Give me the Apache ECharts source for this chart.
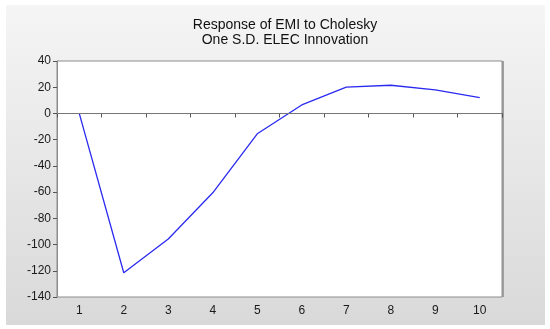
<!DOCTYPE html>
<html><head><meta charset="utf-8">
<script src="https://cdn.jsdelivr.net/npm/echarts@6/dist/echarts.min.js"></script>
<style>html,body{margin:0;padding:0;background:#fff}#c{width:550px;height:329px}</style>
</head><body><div id="c"></div>
<script>
var categories = ['1','2','3','4','5','6','7','8','9','10'];
var response = [0, -121.5, -95.8, -60.5, -15.5, 6.5, 20, 21.5, 18, 12];
var titleLines = ['Response of EMI to Cholesky', 'One S.D. ELEC Innovation'];

var chart = echarts.init(document.getElementById('c'), null, {renderer:'canvas'});
chart.setOption({
  animation:false,
  backgroundColor:'#fff',
  graphic:[{
    type:'rect', z:-10, silent:true,
    shape:{x:6,y:5,width:539,height:320},
    style:{fill:new echarts.graphic.LinearGradient(0,0,0,1,[{offset:0,color:'#f5f5f5'},{offset:1,color:'#d9d9d9'}])}
  },{
    type:'rect', z:-5, silent:true,
    shape:{x:502,y:61,width:2,height:236},
    style:{fill:'#a0a0a0'}
  }],
  title:{
    text:titleLines.join('\n'),
    left:280, top:13, textAlign:'center',
    textStyle:{fontFamily:'Liberation Sans, Arial, sans-serif',fontSize:14,fontWeight:'normal',color:'#111',lineHeight:15}
  },
  grid:{left:57,right:48,top:61,bottom:32,show:true,backgroundColor:'#fff',borderColor:'#8c8c8c',borderWidth:1},
  xAxis:{
    type:'category', data:categories, boundaryGap:true,
    axisLine:{show:true,lineStyle:{color:'#8c8c8c'}},
    axisTick:{show:true,length:4,lineStyle:{color:'#555'}},
    axisLabel:{color:'#1a1a1a',fontFamily:'Liberation Sans, Arial, sans-serif',fontSize:12,margin:8},
    splitLine:{show:false}
  },
  yAxis:{
    type:'value', min:-140, max:40, interval:20,
    axisLine:{show:true,lineStyle:{color:'#8c8c8c'}},
    axisTick:{show:true,length:4,lineStyle:{color:'#555'}},
    axisLabel:{color:'#1a1a1a',fontFamily:'Liberation Sans, Arial, sans-serif',fontSize:12,margin:6},
    splitLine:{show:false}
  },
  series:[{
    type:'line', data:response, showSymbol:false, symbol:'none',
    lineStyle:{color:'#2a2af0',width:1.3},
    markLine:{silent:true,symbol:'none',label:{show:false},lineStyle:{color:'#777',width:1,type:'solid'},data:[{yAxis:0}]}
  }]
});
</script></body></html>
